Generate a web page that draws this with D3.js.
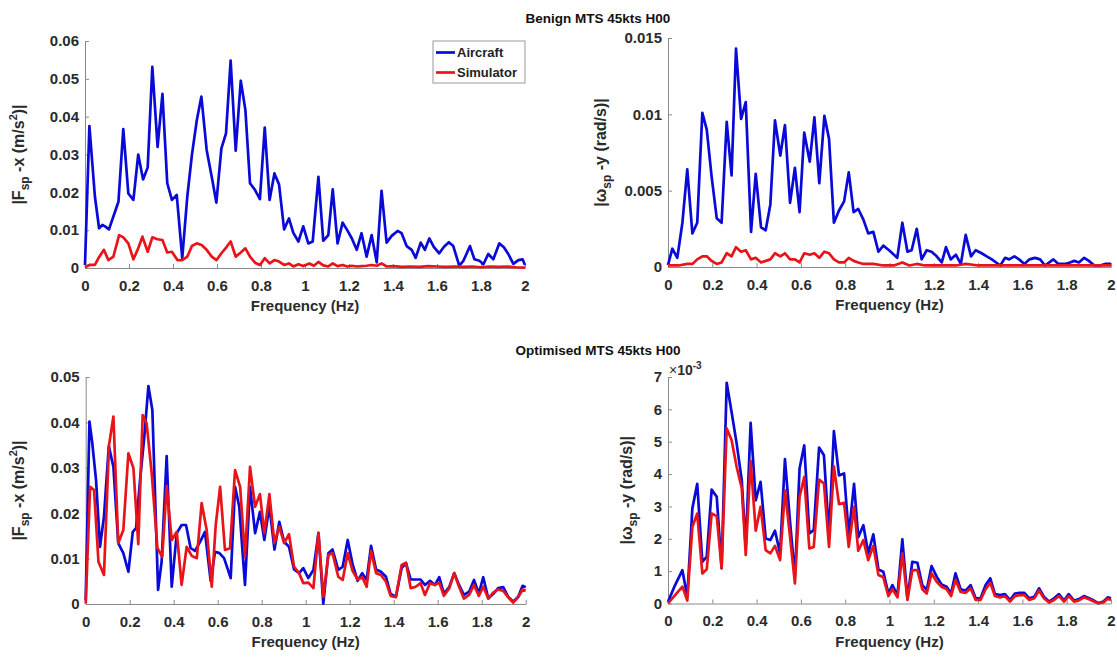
<!DOCTYPE html>
<html><head><meta charset="utf-8">
<script src="https://cdn.jsdelivr.net/npm/d3@7"></script>
<style>
body{margin:0;background:#fff}
text{font-family:Arial,"Liberation Sans",Helvetica,sans-serif;font-weight:bold}
</style>
</head><body>
<svg id="chart" width="1117" height="658"></svg>
<script>
// ---------- data ----------
const titles = ["Benign MTS 45kts H00", "Optimised MTS 45kts H00"];
const seriesNames = ["Aircraft", "Simulator"];
const xTickValues = [0, 0.2, 0.4, 0.6, 0.8, 1, 1.2, 1.4, 1.6, 1.8, 2];
const xTickLabels = ["0", "0.2", "0.4", "0.6", "0.8", "1", "1.2", "1.4", "1.6", "1.8", "2"];
const fxTopTicks = [0, 0.01, 0.02, 0.03, 0.04, 0.05, 0.06];
const fxTopLabels = ["0", "0.01", "0.02", "0.03", "0.04", "0.05", "0.06"];
const wyTopTicks = [0, 0.005, 0.01, 0.015];
const wyTopLabels = ["0", "0.005", "0.01", "0.015"];
const fxBotTicks = [0, 0.01, 0.02, 0.03, 0.04, 0.05];
const fxBotLabels = ["0", "0.01", "0.02", "0.03", "0.04", "0.05"];
const wyBotTicks = [0, 1, 2, 3, 4, 5, 6, 7];          // x 10^-3
const wyBotLabels = ["0", "1", "2", "3", "4", "5", "6", "7"];

// [frequency Hz, magnitude]
const benignFxAircraft = [[0,0.0008],[0.020,0.0375],[0.045,0.0189],[0.064,0.0105],[0.079,0.0114],[0.091,0.011],[0.109,0.0102],[0.129,0.0136],[0.152,0.0175],[0.174,0.0367],[0.197,0.0197],[0.220,0.018],[0.242,0.030],[0.264,0.0234],[0.285,0.0266],[0.306,0.0532],[0.330,0.032],[0.352,0.046],[0.374,0.0224],[0.395,0.018],[0.417,0.0193],[0.442,0.0026],[0.465,0.0189],[0.486,0.0299],[0.508,0.039],[0.529,0.0453],[0.553,0.0312],[0.576,0.0241],[0.597,0.0173],[0.620,0.0316],[0.641,0.0356],[0.662,0.0548],[0.685,0.031],[0.708,0.0495],[0.729,0.0418],[0.750,0.0224],[0.773,0.0206],[0.795,0.0182],[0.817,0.0371],[0.839,0.018],[0.861,0.025],[0.882,0.0221],[0.905,0.0102],[0.927,0.0131],[0.947,0.0093],[0.970,0.007],[0.992,0.011],[1.015,0.0065],[1.035,0.007],[1.061,0.0241],[1.083,0.0072],[1.106,0.0087],[1.126,0.0208],[1.148,0.0065],[1.171,0.012],[1.192,0.010],[1.213,0.0078],[1.235,0.0048],[1.257,0.0092],[1.280,0.003],[1.303,0.0087],[1.326,0.0015],[1.348,0.0204],[1.371,0.0067],[1.394,0.0085],[1.421,0.0098],[1.439,0.0092],[1.462,0.0058],[1.485,0.0048],[1.503,0.0027],[1.526,0.0067],[1.545,0.0048],[1.565,0.0078],[1.586,0.0055],[1.610,0.0039],[1.632,0.0056],[1.654,0.0068],[1.674,0.0058],[1.701,0.0006],[1.720,0.0019],[1.750,0.0058],[1.770,0.0023],[1.793,0.0019],[1.811,0.001],[1.833,0.0037],[1.856,0.0023],[1.883,0.0065],[1.904,0.0055],[1.924,0.0037],[1.947,0.0011],[1.970,0.0021],[1.989,0.0023],[2.0,0.0008]];
const benignFxSimulator = [[0,0.0002],[0.020,0.0008],[0.045,0.0008],[0.065,0.003],[0.086,0.0048],[0.106,0.0021],[0.129,0.003],[0.155,0.0087],[0.174,0.0081],[0.197,0.0065],[0.220,0.0023],[0.242,0.0052],[0.261,0.0083],[0.285,0.0043],[0.306,0.0081],[0.329,0.0076],[0.352,0.0074],[0.374,0.0041],[0.395,0.0043],[0.420,0.0021],[0.442,0.0021],[0.465,0.003],[0.486,0.0058],[0.508,0.0065],[0.530,0.0061],[0.553,0.0048],[0.576,0.003],[0.598,0.0021],[0.620,0.0039],[0.644,0.0056],[0.662,0.007],[0.685,0.003],[0.708,0.0041],[0.729,0.0052],[0.750,0.003],[0.773,0.0014],[0.795,0.0008],[0.817,0.0026],[0.839,0.0012],[0.861,0.0021],[0.882,0.0017],[0.905,0.0008],[0.927,0.0012],[0.947,0.0004],[0.970,0.001],[0.992,0.0005],[1.020,0.0012],[1.04,0.0006],[1.061,0.0016],[1.083,0.0007],[1.106,0.0004],[1.126,0.0012],[1.148,0.0005],[1.171,0.0008],[1.192,0.0004],[1.213,0.0006],[1.235,0.0004],[1.257,0.0005],[1.280,0.0006],[1.303,0.0008],[1.326,0.0006],[1.348,0.0012],[1.371,0.0004],[1.40,0.0005],[1.44,0.0003],[1.48,0.0004],[1.52,0.0003],[1.56,0.0005],[1.60,0.0004],[1.64,0.0003],[1.68,0.0004],[1.72,0.0003],[1.76,0.0004],[1.80,0.0002],[1.84,0.0004],[1.88,0.0003],[1.92,0.0004],[1.96,0.0002],[2.0,0.0001]];
const benignWyAircraft = [[0,0.00013],[0.0196,0.0012],[0.042,0.0006],[0.065,0.0029],[0.087,0.0064],[0.11,0.0022],[0.132,0.0029],[0.155,0.0101],[0.175,0.009],[0.197,0.0059],[0.22,0.0032],[0.242,0.0029],[0.265,0.0095],[0.287,0.006],[0.307,0.0143],[0.33,0.0097],[0.351,0.0108],[0.375,0.0023],[0.396,0.0061],[0.42,0.0026],[0.441,0.0024],[0.462,0.0041],[0.483,0.0096],[0.507,0.0073],[0.528,0.0093],[0.551,0.0042],[0.573,0.0065],[0.594,0.0036],[0.615,0.0088],[0.64,0.0069],[0.661,0.0098],[0.683,0.0055],[0.706,0.0099],[0.727,0.0084],[0.749,0.0029],[0.772,0.0037],[0.795,0.0043],[0.816,0.0062],[0.838,0.0036],[0.859,0.0038],[0.882,0.0031],[0.904,0.0022],[0.927,0.0023],[0.95,0.001],[0.972,0.0014],[0.998,0.0011],[1.035,0.0006],[1.058,0.0029],[1.081,0.001],[1.1,0.0011],[1.123,0.0025],[1.145,0.0005],[1.168,0.0011],[1.19,0.001],[1.213,0.0007],[1.236,0.0003],[1.255,0.0013],[1.276,0.0005],[1.3,0.0008],[1.322,0.0002],[1.344,0.0021],[1.368,0.0007],[1.389,0.0011],[1.416,0.0009],[1.439,0.0007],[1.462,0.0005],[1.5,0.0001],[1.522,0.0006],[1.54,0.0005],[1.564,0.0007],[1.585,0.0005],[1.609,0.0002],[1.632,0.0005],[1.657,0.0006],[1.68,0.0005],[1.702,0.0001],[1.74,0.0005],[1.762,0.0002],[1.792,0.0002],[1.815,0.0003],[1.834,0.0004],[1.855,0.0003],[1.879,0.0006],[1.9,0.0004],[1.925,0.0001],[1.95,0.0001],[1.973,0.0002],[2.0,0.0002]];
const benignWySimulator = [[0,0.0001],[0.047,0.0001],[0.087,0.0002],[0.11,0.0002],[0.132,0.0005],[0.155,0.0007],[0.175,0.0007],[0.197,0.0004],[0.22,0.0002],[0.242,0.0003],[0.265,0.0009],[0.287,0.0007],[0.307,0.0013],[0.33,0.001],[0.351,0.0011],[0.375,0.0005],[0.396,0.0006],[0.42,0.0003],[0.441,0.0004],[0.462,0.0005],[0.483,0.0009],[0.507,0.0007],[0.528,0.0009],[0.551,0.0005],[0.573,0.0005],[0.594,0.0003],[0.615,0.0009],[0.64,0.0008],[0.661,0.0009],[0.683,0.0006],[0.706,0.001],[0.727,0.0009],[0.749,0.0005],[0.772,0.0003],[0.795,0.0003],[0.816,0.0006],[0.838,0.0004],[0.859,0.0003],[0.882,0.0002],[0.927,0.0002],[0.972,0.0001],[1.02,0.0001],[1.058,0.0003],[1.09,0.0001],[1.123,0.0002],[1.16,0.0001],[1.2,0.0001],[1.25,0.0001],[1.3,0.0001],[1.344,0.0002],[1.4,0.0001],[1.5,0.0001],[1.6,0.0001],[1.7,0.0001],[1.8,0.0001],[1.9,0.0001],[2.0,0.0001]];
const optFxAircraft = [[0,0.0009],[0.017,0.0402],[0.03,0.0354],[0.047,0.0273],[0.065,0.0126],[0.083,0.0192],[0.105,0.0348],[0.126,0.0302],[0.148,0.0134],[0.171,0.0112],[0.194,0.0071],[0.214,0.0159],[0.229,0.0167],[0.247,0.0273],[0.265,0.0361],[0.285,0.048],[0.303,0.0427],[0.329,0.0031],[0.345,0.0093],[0.368,0.0326],[0.391,0.0038],[0.414,0.0156],[0.436,0.0174],[0.456,0.0174],[0.477,0.0123],[0.497,0.0117],[0.52,0.0137],[0.542,0.0159],[0.568,0.0051],[0.588,0.0115],[0.608,0.0112],[0.629,0.0101],[0.659,0.0057],[0.679,0.0258],[0.698,0.0214],[0.724,0.0042],[0.747,0.0258],[0.77,0.0156],[0.792,0.0203],[0.812,0.0141],[0.835,0.0216],[0.858,0.012],[0.88,0.0181],[0.902,0.0137],[0.924,0.0126],[0.947,0.0076],[0.97,0.0068],[0.989,0.0079],[1.012,0.0057],[1.035,0.0075],[1.058,0.0156],[1.08,0.0001],[1.103,0.0112],[1.122,0.012],[1.148,0.0075],[1.168,0.0082],[1.191,0.0141],[1.213,0.0088],[1.236,0.0051],[1.257,0.0068],[1.277,0.0053],[1.297,0.0128],[1.32,0.0076],[1.342,0.0071],[1.365,0.006],[1.386,0.0022],[1.41,0.0016],[1.436,0.0079],[1.456,0.009],[1.477,0.0054],[1.5,0.0054],[1.522,0.0054],[1.542,0.0042],[1.565,0.0051],[1.588,0.0042],[1.607,0.0059],[1.628,0.0023],[1.653,0.0038],[1.675,0.0068],[1.697,0.0042],[1.719,0.002],[1.743,0.0027],[1.765,0.0053],[1.787,0.0023],[1.807,0.0059],[1.83,0.0012],[1.852,0.0022],[1.875,0.0035],[1.898,0.0037],[1.92,0.0016],[1.943,0.0005],[1.966,0.0016],[1.986,0.004],[2.0,0.0037]];
const optFxSimulator = [[0,0.0001],[0.02,0.0258],[0.038,0.0251],[0.058,0.0093],[0.083,0.0064],[0.106,0.035],[0.126,0.0413],[0.148,0.0134],[0.171,0.0163],[0.194,0.0332],[0.217,0.0299],[0.239,0.0132],[0.259,0.0416],[0.277,0.0398],[0.3,0.0288],[0.326,0.0123],[0.348,0.0104],[0.368,0.026],[0.391,0.0141],[0.414,0.0159],[0.436,0.0042],[0.459,0.0126],[0.482,0.0106],[0.505,0.0101],[0.527,0.0222],[0.55,0.0163],[0.573,0.0038],[0.591,0.0174],[0.611,0.0258],[0.633,0.0119],[0.656,0.0123],[0.679,0.0295],[0.702,0.0258],[0.724,0.0104],[0.747,0.0302],[0.77,0.0214],[0.792,0.0242],[0.812,0.0156],[0.835,0.0242],[0.858,0.0134],[0.88,0.017],[0.902,0.0134],[0.924,0.0154],[0.947,0.0082],[0.97,0.0068],[0.989,0.0046],[1.012,0.0047],[1.035,0.0035],[1.058,0.0157],[1.08,0.0016],[1.103,0.0108],[1.122,0.0112],[1.148,0.006],[1.168,0.0053],[1.191,0.0112],[1.213,0.0073],[1.236,0.0054],[1.257,0.0059],[1.277,0.0038],[1.297,0.0117],[1.32,0.0068],[1.342,0.0064],[1.365,0.0049],[1.386,0.0018],[1.41,0.0015],[1.436,0.0086],[1.456,0.0091],[1.477,0.0035],[1.5,0.0038],[1.522,0.0046],[1.542,0.002],[1.565,0.0046],[1.588,0.0042],[1.607,0.0047],[1.628,0.0018],[1.653,0.0035],[1.675,0.0068],[1.697,0.0038],[1.719,0.0012],[1.743,0.002],[1.765,0.0042],[1.787,0.0018],[1.807,0.0038],[1.83,0.0012],[1.852,0.0025],[1.875,0.0032],[1.898,0.0029],[1.92,0.0015],[1.943,0.0003],[1.966,0.0015],[1.986,0.0032],[2.0,0.0029]];
// values in units of 10^-3 rad/s
const optWyAircraft = [[0,0.05],[0.032,0.57],[0.065,1.03],[0.087,0.21],[0.11,2.94],[0.132,3.7],[0.155,1.29],[0.175,1.45],[0.197,3.52],[0.22,3.3],[0.242,1.09],[0.265,6.82],[0.287,5.92],[0.31,4.94],[0.333,3.81],[0.351,1.75],[0.373,5.58],[0.396,3.19],[0.418,3.76],[0.441,2.01],[0.462,1.96],[0.483,2.25],[0.506,1.55],[0.528,4.46],[0.551,2.53],[0.573,0.83],[0.594,4.17],[0.615,4.89],[0.638,2.17],[0.658,2.27],[0.682,4.82],[0.704,4.58],[0.727,2.11],[0.749,5.33],[0.772,3.96],[0.795,4.02],[0.816,2.11],[0.84,3.7],[0.859,2.05],[0.882,2.42],[0.904,1.55],[0.927,2.14],[0.95,1.05],[0.972,0.98],[0.995,0.31],[1.013,0.57],[1.036,0.26],[1.058,1.98],[1.081,0.16],[1.103,1.29],[1.126,1.26],[1.148,0.57],[1.168,0.42],[1.19,1.16],[1.213,0.83],[1.235,0.59],[1.258,0.52],[1.278,0.31],[1.298,0.93],[1.321,0.44],[1.344,0.4],[1.366,0.57],[1.389,0.16],[1.411,0.16],[1.434,0.57],[1.455,0.78],[1.476,0.29],[1.499,0.26],[1.521,0.29],[1.544,0.11],[1.566,0.31],[1.588,0.33],[1.609,0.33],[1.631,0.16],[1.654,0.21],[1.675,0.47],[1.697,0.21],[1.72,0.06],[1.743,0.16],[1.765,0.29],[1.788,0.09],[1.809,0.29],[1.833,0.09],[1.853,0.13],[1.878,0.23],[1.901,0.16],[1.923,0.09],[1.943,0.01],[1.966,0.06],[1.985,0.19],[2.0,0.16]];
const optWySimulator = [[0,0],[0.032,0.26],[0.065,0.52],[0.087,0.09],[0.11,2.37],[0.132,2.78],[0.155,0.93],[0.175,1.06],[0.197,2.78],[0.22,2.7],[0.242,1.09],[0.265,5.41],[0.287,5.05],[0.31,4.22],[0.333,3.56],[0.351,1.5],[0.373,4.41],[0.396,2.25],[0.418,2.99],[0.441,1.65],[0.462,1.55],[0.483,1.78],[0.506,1.34],[0.528,3.5],[0.551,2.06],[0.573,0.62],[0.594,3.3],[0.615,3.91],[0.638,1.7],[0.658,1.75],[0.682,3.83],[0.704,3.71],[0.727,1.75],[0.749,4.24],[0.772,3.07],[0.795,3.11],[0.816,1.75],[0.84,2.99],[0.859,1.63],[0.882,1.96],[0.904,1.34],[0.927,1.78],[0.95,0.88],[0.972,0.81],[0.995,0.23],[1.013,0.44],[1.036,0.19],[1.058,1.55],[1.081,0.11],[1.103,1.03],[1.126,1.03],[1.148,0.44],[1.168,0.31],[1.19,0.93],[1.213,0.67],[1.235,0.52],[1.258,0.44],[1.278,0.23],[1.298,0.73],[1.321,0.36],[1.344,0.33],[1.366,0.47],[1.389,0.11],[1.411,0.11],[1.434,0.44],[1.455,0.64],[1.476,0.23],[1.499,0.19],[1.521,0.23],[1.544,0.06],[1.566,0.23],[1.588,0.26],[1.609,0.26],[1.631,0.11],[1.654,0.16],[1.675,0.4],[1.697,0.16],[1.72,0.03],[1.743,0.11],[1.765,0.23],[1.788,0.06],[1.809,0.23],[1.833,0.06],[1.853,0.09],[1.878,0.19],[1.901,0.13],[1.923,0.06],[1.943,0.01],[1.966,0.03],[1.985,0.15],[2.0,0.11]];

// ---------- layout ----------
const svg = d3.select("#chart");
const BLUE = "#0a0ad8", RED = "#e8141a", AXIS = "#8a8a8a", TXT = "#2b2b2b";

const panels = [
  {x0:85, x1:525, y0:268, y1:41, yMax:0.06, ticks:fxTopTicks, labels:fxTopLabels, a:benignFxAircraft, s:benignFxSimulator, ylab:"F", comp:"-x", unit:"(m/s", sup:"2", labX:24, legend:true},
  {x0:668, x1:1111, y0:267, y1:38, yMax:0.015, ticks:wyTopTicks, labels:wyTopLabels, a:benignWyAircraft, s:benignWySimulator, ylab:"\u03C9", comp:"-y", unit:"(rad/s)", labX:606},
  {x0:85.7, x1:525.7, y0:604, y1:377, yMax:0.05, ticks:fxBotTicks, labels:fxBotLabels, a:optFxAircraft, s:optFxSimulator, ylab:"F", comp:"-x", unit:"(m/s", sup:"2", labX:24},
  {x0:668, x1:1111, y0:603.5, y1:377, yMax:7, ticks:wyBotTicks, labels:wyBotLabels, a:optWyAircraft, s:optWySimulator, ylab:"\u03C9", comp:"-y", unit:"(rad/s)", labX:632, exp:true}
];

panels.forEach(p => {
  const x = d3.scaleLinear().domain([0, 2]).range([p.x0, p.x1]);
  const y = d3.scaleLinear().domain([0, p.yMax]).range([p.y0, p.y1]);
  const g = svg.append("g");

  const xa = g.append("g").attr("transform", `translate(0,${p.y0})`)
    .call(d3.axisBottom(x).tickValues(xTickValues).tickFormat((d,i)=>xTickLabels[i]).tickSizeInner(-4).tickSizeOuter(0).tickPadding(12));
  const ya = g.append("g").attr("transform", `translate(${p.x0},0)`)
    .call(d3.axisLeft(y).tickValues(p.ticks).tickFormat((d,i)=>p.labels[i]).tickSizeInner(-4).tickSizeOuter(0).tickPadding(6));
  [xa, ya].forEach(a => {
    a.select(".domain").attr("stroke", AXIS).attr("stroke-width", 1);
    a.selectAll(".tick line").attr("stroke", AXIS);
    a.selectAll(".tick text").attr("fill", TXT).style("font-size", "15px").style("font-weight", "bold")
      .style("font-family", "Arial, 'Liberation Sans', sans-serif");
  });
  xa.selectAll(".tick text").attr("dy", "0.71em").attr("y", 12);
  ya.selectAll(".tick text").attr("x", -6);

  const line = d3.line().x(d => x(d[0])).y(d => y(d[1]));
  g.append("path").datum(p.a).attr("d", line).attr("fill", "none").attr("stroke", BLUE)
    .attr("stroke-width", 2.7).attr("stroke-linejoin", "round");
  g.append("path").datum(p.s).attr("d", line).attr("fill", "none").attr("stroke", RED)
    .attr("stroke-width", 2.7).attr("stroke-linejoin", "round");

  g.append("text").attr("x", (p.x0 + p.x1) / 2).attr("y", p.y0 + 43).attr("text-anchor", "middle")
    .attr("fill", TXT).style("font-size", "15px").text("Frequency (Hz)");

  const cy = (p.y0 + p.y1) / 2;
  const yl = g.append("text").attr("transform", `translate(${p.labX},${cy}) rotate(-90)`)
    .attr("text-anchor", "middle").attr("fill", TXT).style("font-size", "16px");
  yl.append("tspan").text("|" + p.ylab);
  yl.append("tspan").attr("dy", 5).style("font-size", "12px").text("sp");
  yl.append("tspan").attr("dy", -5).text(" " + p.comp + " " + p.unit);
  if (p.sup) {
    yl.append("tspan").attr("dy", -7).style("font-size", "11px").text(p.sup);
    yl.append("tspan").attr("dy", 7).text(")|");
  } else {
    yl.append("tspan").text("|");
  }

  if (p.exp) {
    const e = g.append("text").attr("x", p.x0 + 1).attr("y", p.y1 - 2).attr("fill", TXT).style("font-size", "14px");
    e.append("tspan").style("font-weight", "normal").text("\u00D7");
    e.append("tspan").text("10");
    e.append("tspan").attr("dy", -6).style("font-size", "10px").text("-3");
  }

  if (p.legend) {
    const lg = g.append("g");
    lg.append("rect").attr("x", 433).attr("y", 41).attr("width", 92).attr("height", 42)
      .attr("fill", "#fff").attr("stroke", "#9a9a9a").attr("stroke-width", 1);
    [BLUE, RED].forEach((c, i) => {
      const ry = 52.5 + i * 20;
      lg.append("line").attr("x1", 436).attr("x2", 455).attr("y1", ry).attr("y2", ry)
        .attr("stroke", c).attr("stroke-width", 2.7);
      lg.append("text").attr("x", 457).attr("y", ry + 4.5).attr("fill", "#222").style("font-size", "13px").text(seriesNames[i]);
    });
  }
});

svg.append("text").attr("x", 598).attr("y", 23).attr("text-anchor", "middle").attr("fill", "#111")
  .style("font-size", "13.5px").text(titles[0]);
svg.append("text").attr("x", 598).attr("y", 355).attr("text-anchor", "middle").attr("fill", "#111")
  .style("font-size", "13.5px").text(titles[1]);
</script>
</body></html>
